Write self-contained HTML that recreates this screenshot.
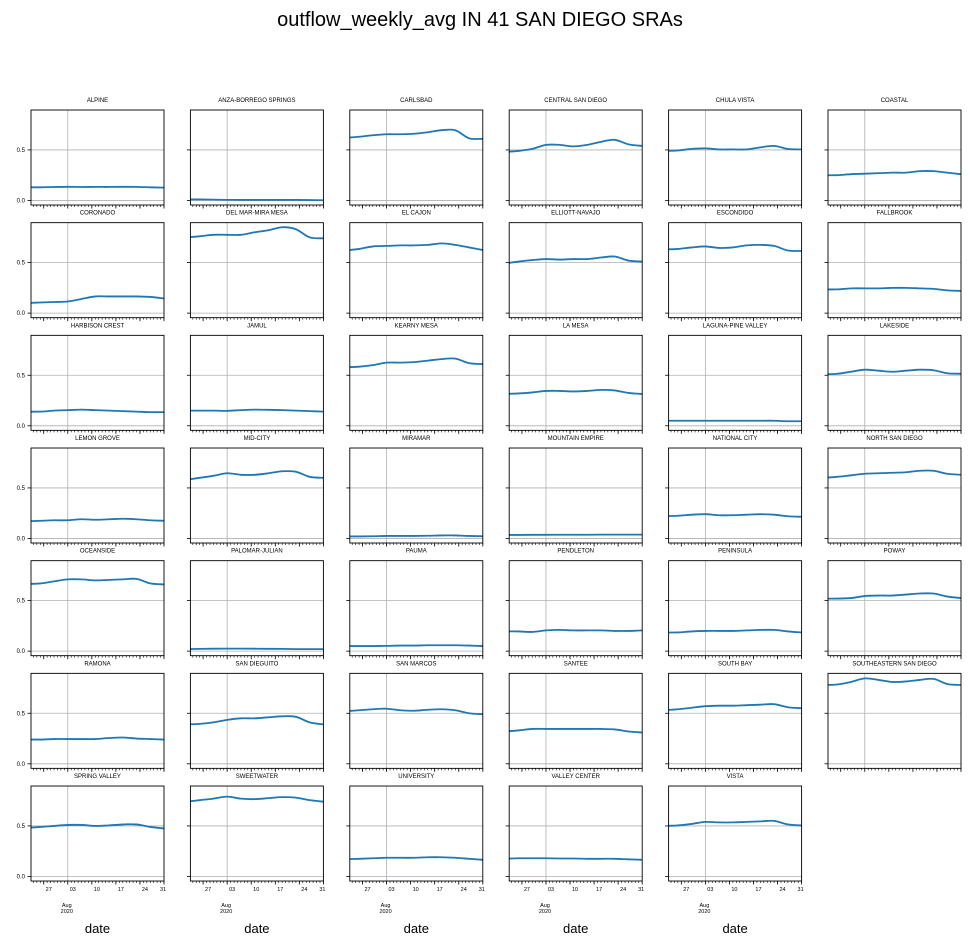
<!DOCTYPE html>
<html><head><meta charset="utf-8">
<style>
html,body{margin:0;padding:0;background:#fff;}
svg{display:block;font-family:"Liberation Sans","DejaVu Sans",sans-serif;}
</style></head>
<body>
<svg id="chart" width="970" height="946" viewBox="0 0 970 946">
<text x="480" y="26" text-anchor="middle" font-size="20" fill="#000">outflow_weekly_avg IN 41 SAN DIEGO SRAs</text>
</svg>
<script>
const regions = ["ALPINE","ANZA-BORREGO SPRINGS","CARLSBAD","CENTRAL SAN DIEGO","CHULA VISTA","COASTAL",
"CORONADO","DEL MAR-MIRA MESA","EL CAJON","ELLIOTT-NAVAJO","ESCONDIDO","FALLBROOK",
"HARBISON CREST","JAMUL","KEARNY MESA","LA MESA","LAGUNA-PINE VALLEY","LAKESIDE",
"LEMON GROVE","MID-CITY","MIRAMAR","MOUNTAIN EMPIRE","NATIONAL CITY","NORTH SAN DIEGO",
"OCEANSIDE","PALOMAR-JULIAN","PAUMA","PENDLETON","PENINSULA","POWAY",
"RAMONA","SAN DIEGUITO","SAN MARCOS","SANTEE","SOUTH BAY","SOUTHEASTERN SAN DIEGO",
"SPRING VALLEY","SWEETWATER","UNIVERSITY","VALLEY CENTER","VISTA"];
// day offsets from Jul 22, 2020
const days = [0,4,8,12,16,20,24,28,32,36,40];
const values = [
[.13,.13,.133,.135,.133,.134,.134,.135,.134,.13,.127],
[.01,.01,.008,.006,.005,.005,.005,.005,.005,.004,.002],
[.62,.63,.645,.655,.655,.66,.675,.695,.695,.615,.61],
[.48,.49,.51,.55,.55,.535,.55,.58,.60,.555,.54],
[.49,.495,.51,.515,.505,.505,.505,.525,.54,.51,.505],
[.25,.25,.26,.265,.27,.275,.275,.29,.29,.275,.26],
[.10,.105,.11,.115,.14,.165,.165,.165,.165,.16,.145],
[.75,.76,.775,.775,.775,.80,.82,.85,.83,.75,.74],
[.62,.635,.66,.665,.67,.67,.675,.69,.675,.65,.625],
[.49,.51,.525,.535,.53,.535,.535,.55,.56,.52,.51],
[.63,.635,.65,.66,.645,.65,.67,.675,.665,.62,.615],
[.235,.235,.245,.245,.245,.25,.25,.245,.24,.225,.22],
[.14,.14,.15,.155,.16,.155,.15,.145,.14,.135,.135],
[.15,.15,.15,.148,.155,.16,.158,.155,.15,.145,.14],
[.58,.585,.60,.625,.625,.63,.645,.66,.665,.62,.61],
[.315,.32,.33,.345,.345,.34,.345,.355,.35,.325,.315],
[.05,.05,.05,.05,.05,.05,.05,.05,.05,.045,.045],
[.51,.515,.535,.555,.545,.535,.545,.555,.55,.52,.515],
[.17,.175,.18,.18,.19,.185,.19,.195,.19,.18,.175],
[.58,.60,.62,.645,.63,.63,.645,.665,.66,.61,.60],
[.02,.02,.022,.025,.025,.025,.027,.03,.03,.025,.022],
[.035,.035,.036,.036,.037,.037,.037,.038,.038,.038,.038],
[.22,.225,.235,.24,.23,.23,.235,.24,.235,.22,.215],
[.60,.61,.625,.64,.645,.65,.655,.67,.67,.64,.63],
[.665,.67,.69,.71,.71,.70,.705,.71,.715,.67,.66],
[.02,.022,.024,.025,.025,.024,.023,.022,.02,.02,.02],
[.05,.05,.05,.052,.055,.055,.058,.058,.058,.055,.05],
[.195,.195,.19,.205,.21,.205,.205,.205,.20,.20,.205],
[.185,.185,.195,.20,.20,.20,.205,.21,.21,.195,.185],
[.52,.52,.525,.545,.55,.55,.56,.57,.57,.54,.525],
[.24,.24,.245,.245,.245,.245,.255,.26,.25,.245,.24],
[.39,.395,.41,.435,.45,.45,.46,.47,.465,.41,.39],
[.52,.53,.54,.545,.53,.525,.535,.54,.53,.50,.49],
[.32,.33,.345,.345,.345,.345,.345,.345,.34,.32,.31],
[.53,.54,.555,.57,.575,.575,.58,.585,.59,.56,.55],
[.78,.785,.81,.845,.83,.81,.815,.83,.84,.79,.78],
[.48,.49,.50,.51,.51,.50,.505,.515,.515,.49,.475],
[.74,.755,.77,.79,.77,.765,.775,.785,.78,.755,.74],
[.17,.175,.18,.185,.185,.185,.19,.19,.185,.175,.165],
[.175,.18,.18,.18,.178,.178,.175,.175,.175,.17,.165],
[.50,.505,.52,.54,.535,.535,.54,.545,.55,.515,.505]
];
const yTicks = [0, 0.5];
const yTickLabels = ["0.0","0.5"];
const xMajorDays = [5,12,19,26,33,40];
const xMajorLabels = ["27","03","10","17","24","31"];
const xStart = 1.3, xEnd = 40;

const NS="http://www.w3.org/2000/svg";
const svg=document.getElementById('chart');
function mk(tag,attrs,parent){const e=document.createElementNS(NS,tag);for(const k in attrs)e.setAttribute(k,attrs[k]);(parent||svg).appendChild(e);return e;}
const W=133,H=95,Y0=-0.045,Y1=0.895;
const colLeft=c=>31+c*159.4;
const rowTop=r=>110+r*112.67;
const defs=mk('defs',{});

regions.forEach((name,i)=>{
  const r=Math.floor(i/6), c=i%6;
  const L=colLeft(c), T=rowTop(r);
  const xs=d=>L+(d-xStart)*W/(xEnd-xStart);
  const ys=v=>T+H-(v-Y0)/(Y1-Y0)*H;
  const cp=mk('clipPath',{id:'cp'+i},defs);
  mk('rect',{x:L,y:T,width:W,height:H},cp);
  const g=mk('g',{});
  
  
  const t=mk('text',{x:L+W/2,y:T-8,'text-anchor':'middle','font-size':'6','fill':'#000'},g);
  t.textContent=name;
  
  
  yTicks.forEach((v,k)=>{
    const gl=mk('line',{x1:L,x2:L+W,y1:ys(v),y2:ys(v),stroke:'#b0b0b0','stroke-width':0.8},g);
    
    
    mk('line',{x1:L-3.5,x2:L,y1:ys(v),y2:ys(v),stroke:'#000','stroke-width':0.8},g);
    if(c===0){
      const tl=mk('text',{x:L-6,y:ys(v)+2,'text-anchor':'end','font-size':'6','fill':'#000'},g);
      tl.textContent=yTickLabels[k];
      
      
    }
  });
  const vg=mk('line',{x1:xs(12),x2:xs(12),y1:T,y2:T+H,stroke:'#b0b0b0','stroke-width':0.8},g);
  
  
  for(let d=2;d<=40;d++){
    mk('line',{x1:xs(d),x2:xs(d),y1:T+H,y2:T+H+2,stroke:'#000','stroke-width':0.6},g);
  }
  xMajorDays.forEach(d=>mk('line',{x1:xs(d),x2:xs(d),y1:T+H,y2:T+H+3.5,stroke:'#000','stroke-width':0.8},g));
  const v=values[i];
  const pts=days.map((d,k)=>[xs(d),ys(v[k])]);
  let dstr='M'+pts[0][0].toFixed(2)+','+pts[0][1].toFixed(2);
  for(let k=0;k<pts.length-1;k++){
    const p0=pts[Math.max(0,k-1)],p1=pts[k],p2=pts[k+1],p3=pts[Math.min(pts.length-1,k+2)];
    const c1=[p1[0]+(p2[0]-p0[0])/6,p1[1]+(p2[1]-p0[1])/6];
    const c2=[p2[0]-(p3[0]-p1[0])/6,p2[1]-(p3[1]-p1[1])/6];
    dstr+=' C'+c1.map(n=>n.toFixed(2)).join(',')+' '+c2.map(n=>n.toFixed(2)).join(',')+' '+p2.map(n=>n.toFixed(2)).join(',');
  }
  const ln=mk('path',{d:dstr,fill:'none',stroke:'#1f77b4','stroke-width':1.8,'clip-path':'url(#cp'+i+')'},g);
  
  
  mk('rect',{x:L,y:T,width:W,height:H,fill:'none',stroke:'#000','stroke-width':0.9},g);
  if(r===6){
    xMajorDays.forEach((d,k)=>{
      const lx=Math.min(xs(d)+5,L+W-1);
      const xl=mk('text',{x:lx,y:T+H+10,'text-anchor':'middle','font-size':'5.5','fill':'#000'},g);
      xl.textContent=xMajorLabels[k];
      
      
    });
    const a=mk('text',{x:xs(12)-1,y:T+H+26,'text-anchor':'middle','font-size':'5.5','fill':'#000'},g);
    a.textContent='Aug';
    
    
    const yr=mk('text',{x:xs(12)-1,y:T+H+32,'text-anchor':'middle','font-size':'5.5','fill':'#000'},g);
    yr.textContent='2020';
    
    
    const xt=mk('text',{x:L+W/2,y:T+H+52,'text-anchor':'middle','font-size':'13','fill':'#000'},g);
    xt.textContent='date';
    
    
  }
});
</script>
</body></html>
